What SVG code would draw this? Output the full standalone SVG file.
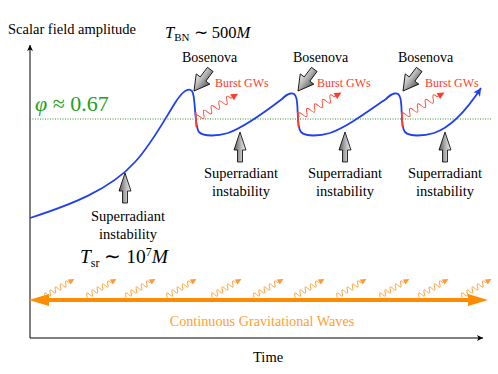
<svg xmlns="http://www.w3.org/2000/svg" width="498" height="374" viewBox="0 0 498 374">
<style>
text{font-family:"Liberation Serif","Times New Roman",serif;}
.lbl{font-size:14px;fill:#000;}
.sr{font-size:14.5px;fill:#000;text-anchor:middle;}
.burst{font-size:12px;fill:#ff3b2b;}
.ax{stroke:#000;stroke-width:1;fill:none;}
.garr{stroke:#000;stroke-width:0.8;fill:url(#grey);}
.rw{stroke:#ff4a38;stroke-width:0.9;fill:none;}
.ow{stroke:#ff9a30;stroke-width:0.8;fill:none;}
</style>
<defs>
<linearGradient id="grey" x1="0" y1="0" x2="1" y2="0">
<stop offset="0" stop-color="#5a5a5a"/>
<stop offset="0.6" stop-color="#bdbdbd"/>
<stop offset="1" stop-color="#eeeeee"/>
</linearGradient>
<marker id="axh" markerWidth="8" markerHeight="8" refX="6" refY="3" orient="auto" markerUnits="userSpaceOnUse">
<path d="M0,0 L6,3 L0,6 L1.5,3 Z" fill="#000"/>
</marker>
<marker id="blueh" markerWidth="10" markerHeight="10" refX="8" refY="4" orient="auto" markerUnits="userSpaceOnUse">
<path d="M0,0 L8,4 L0,8 L2,4 Z" fill="#2040f0"/>
</marker>
<polygon id="bigarr" points="0,0 8.5,15 3.5,15 3.5,27 -3.5,27 -3.5,15 -8.5,15"/>
<polygon id="uparr" points="0,0 6,18 2.5,18 2.5,30 -2.5,30 -2.5,18 -6,18"/>
<g id="bw">
<path class="rw" d="M0,0 q2.25,-7 4.5,0 t4.5,0 t4.5,0 t4.5,0 t4.5,0 t4.5,0 t4.5,0 t4.5,0 t4.5,0 l3,0"/>
<polygon points="42,-3.5 49,0 42,3.5" fill="#ff3b2b"/>
</g>
<g id="cw">
<path class="ow" d="M0,0 V-4"/>
<g transform="translate(0,-4) rotate(-30)">
<path class="ow" d="M0,0 q1.5,-5.5 3,0 t3,0 t3,0 t3,0 t3,0 t3,0 t3,0 t3,0 t3,0 l2,0"/>
<polygon points="28,-3 34,0 28,3" fill="#ff9a30"/>
</g>
</g>
</defs>
<rect width="498" height="374" fill="#fff"/>

<g id="axes">
<path class="ax" d="M30,338 V45" marker-end="url(#axh)"/>
<path class="ax" d="M30,338 H483" marker-end="url(#axh)"/>
<text x="8" y="34" class="lbl" style="font-size:14.5px">Scalar field amplitude</text>
<text x="253" y="362" class="lbl" style="font-size:14.5px">Time</text>
</g>

<g id="threshold">
<line x1="30" y1="119" x2="492" y2="119" stroke="#2a9a2a" stroke-width="1" stroke-dasharray="1,1.5"/>
<text x="35" y="111" style="font-size:22px;fill:#22a022"><tspan font-style="italic">φ</tspan> ≈ 0.67</text>
</g>

<g id="connectors">
<path d="M30,218 C70,205 110,190 135,162 C150,146 162,124 175,103 C182,92 188,87 192,91 C196,96 194,126 199,132 C204,137 218,136 228,133 C245,127 265,112 282,99 C288,93 294,91 296,97 C299,104 296,127 301,132 C306,137 320,136 330,133 C347,127 367,112 386,99 C392,93 398,91 400,97 C403,104 400,127 405,132 C410,137 424,136 434,133 C452,127 468,108 481,88" fill="none" stroke="#2040f0" stroke-width="1.8" marker-end="url(#blueh)"/>
<path d="M195.6,112 L196.3,127" stroke="#ff3b2b" stroke-width="1.6"/>
<path d="M297.8,112 L298.4,127" stroke="#ff3b2b" stroke-width="1.6"/>
<path d="M401.8,112 L402.4,127" stroke="#ff3b2b" stroke-width="1.6"/>
</g>

<g id="bosenova1">
<use href="#bigarr" class="garr" transform="translate(194,91) rotate(-143)"/>
<text x="182" y="62" class="lbl">Bosenova</text>
</g>
<g id="bosenova2">
<use href="#bigarr" class="garr" transform="translate(298,91) rotate(-143)"/>
<text x="293" y="62" class="lbl">Bosenova</text>
</g>
<g id="bosenova3">
<use href="#bigarr" class="garr" transform="translate(403,91) rotate(-143)"/>
<text x="398" y="62" class="lbl">Bosenova</text>
</g>

<g id="burst1">
<use href="#bw" transform="translate(196,119) rotate(-31)"/>
<text x="215" y="87" class="burst">Burst GWs</text>
</g>
<g id="burst2">
<use href="#bw" transform="translate(299,117) rotate(-30)"/>
<text x="317" y="87" class="burst">Burst GWs</text>
</g>
<g id="burst3">
<use href="#bw" transform="translate(402,117) rotate(-30)"/>
<text x="425" y="87" class="burst">Burst GWs</text>
</g>

<g id="sr0">
<use href="#uparr" class="garr" transform="translate(125,173)"/>
<text x="128" y="221" class="sr">Superradiant</text>
<text x="128" y="239" class="sr">instability</text>
<text x="80" y="263" style="font-size:19.5px"><tspan font-style="italic">T</tspan><tspan font-size="12" dy="4">sr</tspan><tspan dy="-4"> ∼ 10</tspan><tspan font-size="12" dy="-7">7</tspan><tspan dy="7" font-style="italic">M</tspan></text>
</g>
<g id="sr1">
<use href="#uparr" class="garr" transform="translate(240,132)"/>
<text x="241" y="178" class="sr">Superradiant</text>
<text x="241" y="196" class="sr">instability</text>
</g>
<g id="sr2">
<use href="#uparr" class="garr" transform="translate(345,132)"/>
<text x="345" y="178" class="sr">Superradiant</text>
<text x="345" y="196" class="sr">instability</text>
</g>
<g id="sr3">
<use href="#uparr" class="garr" transform="translate(445,132)"/>
<text x="445" y="178" class="sr">Superradiant</text>
<text x="445" y="196" class="sr">instability</text>
</g>

<g id="tbn">
<text x="165" y="38" style="font-size:16.5px"><tspan font-style="italic">T</tspan><tspan font-size="11" dy="3">BN</tspan><tspan dy="-3"> ∼ 500</tspan><tspan font-style="italic">M</tspan></text>
</g>

<g id="cgw">
<line x1="46" y1="300" x2="470" y2="300" stroke="#ff8c00" stroke-width="4"/>
<polygon points="29,300 49,294 49,306" fill="#ff8c00"/>
<polygon points="488,300 468,294 468,306" fill="#ff8c00"/>
<use href="#cw" x="45" y="300"/>
<use href="#cw" x="87" y="300"/>
<use href="#cw" x="126" y="300"/>
<use href="#cw" x="167" y="300"/>
<use href="#cw" x="212" y="300"/>
<use href="#cw" x="254" y="300"/>
<use href="#cw" x="295" y="300"/>
<use href="#cw" x="337" y="300"/>
<use href="#cw" x="380" y="300"/>
<use href="#cw" x="419" y="300"/>
<use href="#cw" x="462" y="300"/>
<text x="262" y="326" style="font-size:14.2px;fill:#ffa030;text-anchor:middle">Continuous Gravitational Waves</text>
</g>
</svg>
